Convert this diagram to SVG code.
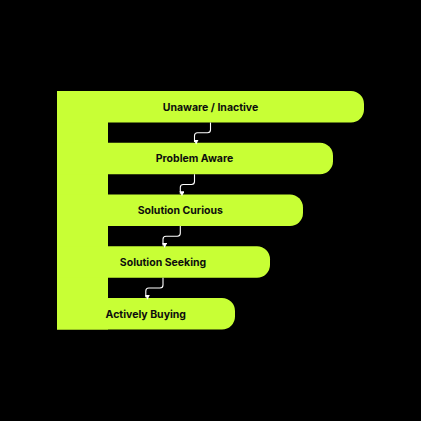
<svg xmlns="http://www.w3.org/2000/svg" width="421" height="421" viewBox="0 0 421 421">
<defs>
<style>
.bar{fill:#c8ff35;}
.lbl{font-family:Inter,"Liberation Sans",sans-serif;font-weight:700;font-size:10.5px;fill:#0d0d0d;text-anchor:middle;}
.conn{fill:none;stroke:#ffffff;stroke-width:1.1;}
</style>
<marker id="ah" viewBox="0 0 6 6" refX="3" refY="5" markerWidth="5" markerHeight="5" orient="auto-start-reverse" markerUnits="userSpaceOnUse">
<path d="M0,0 L6,0 L3,6 Z" fill="#ffffff" transform="rotate(-90 3 3)"/>
</marker>
</defs>
<rect x="0" y="0" width="421" height="421" fill="#000000"/>
<rect id="spine" class="bar" x="57" y="91" width="51" height="238.5"/>
<g id="node1">
<path class="bar" d="M57,91 H351 A13,13 0 0 1 364,104 V109.5 A13,13 0 0 1 351,122.5 H57 Z"/>
<text class="lbl" x="210.5" y="110.5">Unaware / Inactive</text>
</g>
<g id="node2">
<path class="bar" d="M57,142.75 H320 A13,13 0 0 1 333,155.75 V161.25 A13,13 0 0 1 320,174.25 H57 Z"/>
<text class="lbl" x="194.5" y="162.3">Problem Aware</text>
</g>
<g id="node3">
<path class="bar" d="M57,194.5 H290 A13,13 0 0 1 303,207.5 V213 A13,13 0 0 1 290,226 H57 Z"/>
<text class="lbl" x="180.3" y="214">Solution Curious</text>
</g>
<g id="node4">
<path class="bar" d="M57,246.25 H257 A13,13 0 0 1 270,259.25 V264.75 A13,13 0 0 1 257,277.75 H57 Z"/>
<text class="lbl" x="163" y="265.8">Solution Seeking</text>
</g>
<g id="node5">
<path class="bar" d="M57,298 H222 A13,13 0 0 1 235,311 V316.5 A13,13 0 0 1 222,329.5 H57 Z"/>
<text class="lbl" x="145.8" y="317.5">Actively Buying</text>
</g>
<g id="connectors">
<path class="conn" marker-end="url(#ah)" d="M210.5,122.5 V129.8 Q210.5,132.8 207.5,132.8 H197.5 Q194.5,132.8 194.5,135.8 V142"/>
<path class="conn" marker-end="url(#ah)" d="M194.5,174.25 V181.5 Q194.5,184.5 191.5,184.5 H183.3 Q180.3,184.5 180.3,187.5 V193.7"/>
<path class="conn" marker-end="url(#ah)" d="M180.3,226 V233.2 Q180.3,236.2 177.3,236.2 H166 Q163,236.2 163,239.2 V245.5"/>
<path class="conn" marker-end="url(#ah)" d="M163,277.75 V285 Q163,288 160,288 H148.8 Q145.8,288 145.8,291 V297.2"/>
</g>
</svg>
